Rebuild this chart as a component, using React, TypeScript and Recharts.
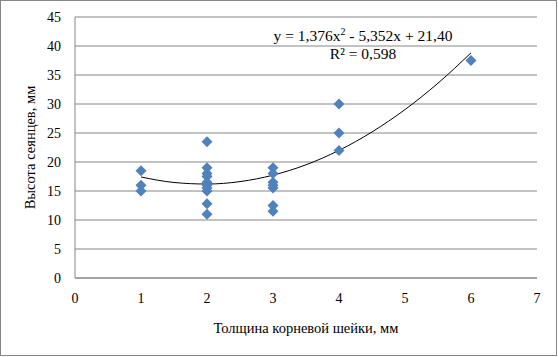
import React from "react";
import {
	ComposedChart,
	Scatter,
	Line,
	XAxis,
	YAxis,
	CartesianGrid,
} from "recharts";

// Root collar thickness (mm) and seedling height (mm)
const thicknessValues = [
	1, 1, 1,
	2, 2, 2, 2, 2, 2, 2, 2, 2, 2,
	3, 3, 3, 3, 3, 3, 3,
	4, 4, 4,
	6,
];
const heightValues = [
	18.5, 16, 15,
	23.5, 19, 18, 17.5, 16.5, 16, 15.5, 15, 12.8, 11,
	19, 18, 16.5, 16, 15.5, 12.5, 11.5,
	30, 25, 22,
	37.5,
];

// Polynomial trendline as drawn on the chart
const trendX = [1, 1.5, 2, 2.5, 3, 3.5, 4, 4.5, 5, 5.5, 6];
const trendY = [17.42, 16.47, 16.2, 16.62, 17.73, 19.52, 22.01, 25.18, 29.04, 33.59, 38.82];

const xTicks = [0, 1, 2, 3, 4, 5, 6, 7];
const yTicks = [0, 5, 10, 15, 20, 25, 30, 35, 40, 45];

const points = thicknessValues.map((x, i) => ({ x, y: heightValues[i] }));
const trend = trendX.map((x, i) => ({ x, y: trendY[i] }));

const FONT = "'Liberation Serif', 'Times New Roman', serif";
const GRID = "#868686";
const BLUE = "#4F81BD";

const Diamond = (props: any) => {
	const { cx, cy } = props;
	if (cx == null || cy == null) return null;
	const r = 5.5;
	return (
		<path
			d={`M${cx},${cy - r}L${cx + r},${cy}L${cx},${cy + r}L${cx - r},${cy}Z`}
			fill={BLUE}
		/>
	);
};

export default function App() {
	return (
		<div style={{ position: "relative", width: 558, height: 357, fontFamily: FONT }}>
			<style>{`body{margin:0}`}</style>
			<div
				style={{
					position: "absolute",
					left: 0,
					top: 0,
					width: 555,
					height: 354,
					border: "1px solid #868686",
				}}
			/>
			<ComposedChart
				width={558}
				height={357}
				margin={{ top: 17, right: 21, bottom: 23, left: 0 }}
				style={{ position: "absolute", left: 0, top: 0 }}
			>
				<CartesianGrid horizontal vertical={false} stroke={GRID} strokeWidth={1} />
				<XAxis
					dataKey="x"
					type="number"
					domain={[0, 7]}
					ticks={xTicks}
					allowDataOverflow
					height={56}
					axisLine={{ stroke: GRID }}
					tickLine={false}
					tickSize={0}
					tickMargin={15}
					tick={{ fill: "#000", fontSize: 14, fontFamily: FONT }}
					label={{
						value: "Толщина корневой шейки, мм",
						position: "insideBottom",
						offset: 1,
						style: { fill: "#000", fontSize: 14.5, fontFamily: FONT },
					}}
				/>
				<YAxis
					type="number"
					domain={[0, 45]}
					ticks={yTicks}
					width={75}
					axisLine={{ stroke: GRID }}
					tickLine={false}
					tickSize={0}
					tickMargin={14}
					tick={{ fill: "#000", fontSize: 14, fontFamily: FONT }}
					label={{
						value: "Высота сеянцев, мм",
						angle: -90,
						position: "insideLeft",
						offset: 30,
						style: { fill: "#000", fontSize: 14.5, fontFamily: FONT, textAnchor: "middle" },
					}}
				/>
				<Line
					data={trend}
					dataKey="y"
					type="monotone"
					stroke="#000"
					strokeWidth={1}
					dot={false}
					activeDot={false}
					isAnimationActive={false}
				/>
				<Scatter
					data={points}
					dataKey="y"
					shape={<Diamond />}
					isAnimationActive={false}
				/>
			</ComposedChart>
			<div
				style={{
					position: "absolute",
					left: 243,
					width: 240,
					top: 27,
					textAlign: "center",
					fontSize: 15.5,
					lineHeight: "18px",
					color: "#000",
				}}
			>
				<div>
					y = 1,376x<sup style={{ fontSize: 10, lineHeight: 0 }}>2</sup> - 5,352x + 21,40
				</div>
				<div>R² = 0,598</div>
			</div>
		</div>
	);
}
